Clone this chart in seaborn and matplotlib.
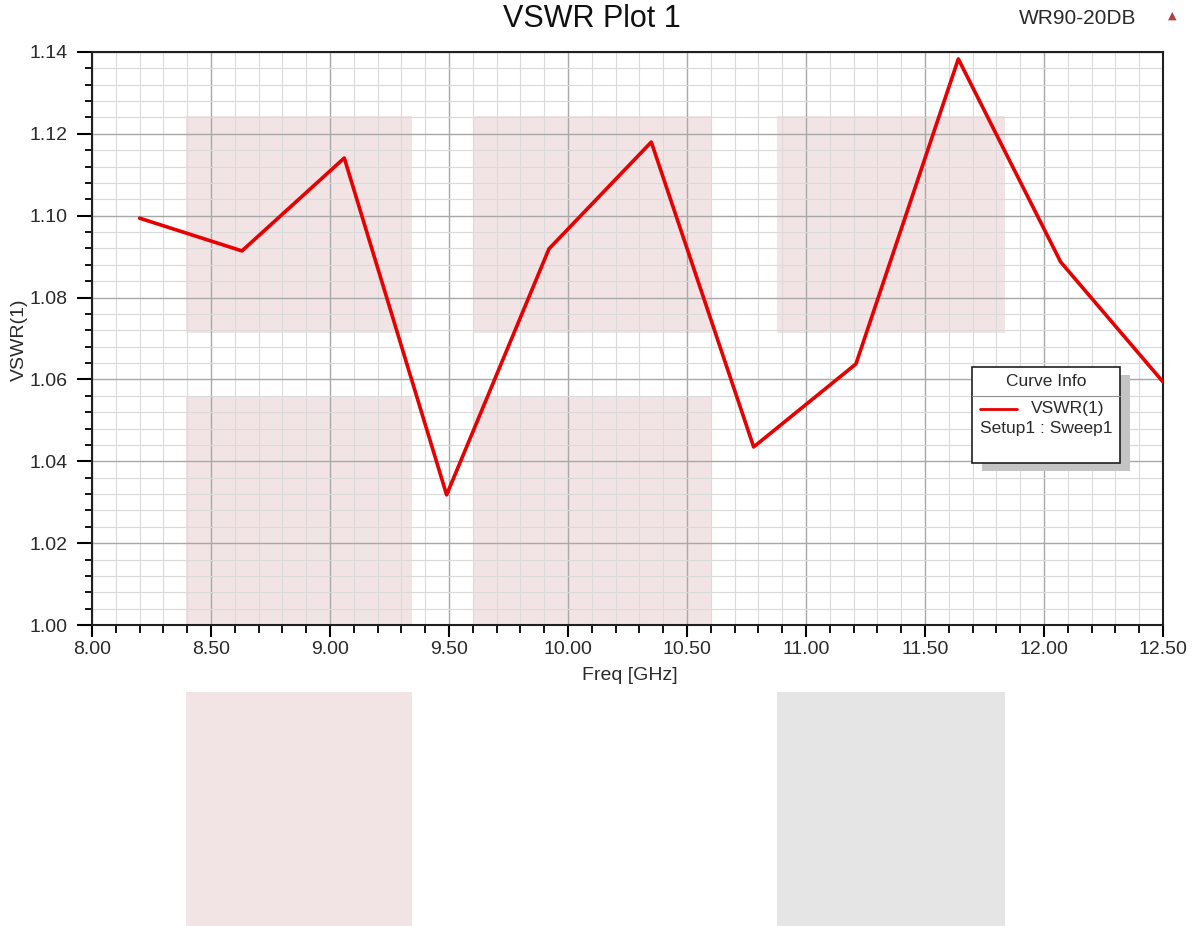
import matplotlib
matplotlib.use('Agg')
import matplotlib.pyplot as plt
from matplotlib.patches import Rectangle
from matplotlib.lines import Line2D
from matplotlib.ticker import MultipleLocator, FormatStrFormatter
import seaborn as sns
import pandas as pd

# data
freq_ghz = [8.20, 8.63, 9.06, 9.49, 9.92, 10.35, 10.78, 11.21, 11.64, 12.07, 12.50]
vswr = [1.0994, 1.0914, 1.1141, 1.0318, 1.0919, 1.1180, 1.0435, 1.0638, 1.1383, 1.0887, 1.0594]

df = pd.DataFrame({'Freq': freq_ghz, 'VSWR': vswr})

sns.set_style('white')
plt.rcParams['font.family'] = ['Liberation Sans', 'DejaVu Sans']

W, H = 1195, 926
fig = plt.figure(figsize=(W / 100, H / 100), dpi=100)

def fx(px):
    return px / W

def fy(py):
    return 1 - py / H

ax = fig.add_axes([fx(92), fy(625), fx(1163) - fx(92), fy(52) - fy(625)])

# shaded overlay blocks behind the grid
pink = '#f2e4e4'
for x0, x1, y0, y1 in [(8.395, 9.345, 1.0713, 1.1244), (9.605, 10.605, 1.0713, 1.1244),
                       (10.878, 11.836, 1.0713, 1.1244), (8.395, 9.345, 1.0, 1.0559),
                       (9.605, 10.605, 1.0, 1.0559)]:
    ax.add_patch(Rectangle((x0, y0), x1 - x0, y1 - y0, color=pink, lw=0, zorder=0.2))

# blocks under the plot
fig.patches.append(Rectangle((fx(186), fy(926)), fx(412) - fx(186), fy(692) - fy(926),
                             transform=fig.transFigure, color=pink, lw=0))
fig.patches.append(Rectangle((fx(777), fy(926)), fx(1005) - fx(777), fy(692) - fy(926),
                             transform=fig.transFigure, color='#e5e5e5', lw=0))

sns.lineplot(data=df, x='Freq', y='VSWR', color='#e80000', linewidth=2.6, ax=ax, zorder=3)

ax.set_xlim(8.0, 12.5)
ax.set_ylim(1.0, 1.14)
ax.xaxis.set_major_locator(MultipleLocator(0.5))
ax.xaxis.set_minor_locator(MultipleLocator(0.1))
ax.yaxis.set_major_locator(MultipleLocator(0.02))
ax.yaxis.set_minor_locator(MultipleLocator(0.004))
ax.xaxis.set_major_formatter(FormatStrFormatter('%.2f'))
ax.yaxis.set_major_formatter(FormatStrFormatter('%.2f'))

ax.set_axisbelow(True)
ax.grid(which='major', color='#a8a8a8', linewidth=1.0)
ax.grid(which='minor', color='#dadada', linewidth=0.8)

ax.tick_params(axis='x', which='major', direction='out', length=8.6, width=1.5, color='black',
               labelsize=14, labelcolor='#2a2a2a', pad=3)
ax.tick_params(axis='x', which='minor', direction='out', length=5.8, width=1.3, color='black')
ax.tick_params(axis='y', which='major', direction='out', length=10.8, width=1.5, color='black',
               labelsize=14, labelcolor='#2a2a2a', pad=7)
ax.tick_params(axis='y', which='minor', direction='out', length=5, width=1.3, color='black')
ax.tick_params(which='both', bottom=True, left=True)
for s in ax.spines.values():
    s.set_color('#202020')
    s.set_linewidth(1.5)

ax.set_xlabel('Freq [GHz]', fontsize=14, color='#2a2a2a')
ax.set_ylabel('VSWR(1)', fontsize=14, color='#2a2a2a')
ax.xaxis.set_label_coords(0.502, -(667 - 625) / 573, transform=ax.transAxes)
ax.yaxis.set_label_coords(-(92 - 28) / 1071, 0.497, transform=ax.transAxes)

fig.text(fx(592), fy(19), 'VSWR Plot 1', ha='center', va='center', fontsize=22, color='#111111')
fig.text(fx(1078), fy(19), 'WR90-20DB', ha='center', va='center', fontsize=15, color='#2a2a2a')
fig.text(fx(1172), fy(16), '\u25b2', ha='center', va='center', fontsize=8, color='#b04040',
         family=['DejaVu Sans'])

# "Curve Info" box with drop shadow
fig.patches.append(Rectangle((fx(982), fy(471)), fx(1130) - fx(982), fy(375) - fy(471),
                             transform=fig.transFigure, color='#c4c4c4', lw=0, zorder=5))
fig.patches.append(Rectangle((fx(972), fy(463)), fx(1120) - fx(972), fy(367) - fy(463),
                             transform=fig.transFigure, facecolor='white', edgecolor='#202020',
                             lw=1.2, zorder=6))
fig.lines.append(Line2D([fx(972), fx(1120)], [fy(396), fy(396)], transform=fig.transFigure,
                        color='#909090', lw=0.8, zorder=7))
line_color = ax.get_lines()[0].get_color()
fig.lines.append(Line2D([fx(980), fx(1017)], [fy(409), fy(409)], transform=fig.transFigure,
                        color=line_color, lw=2.0, zorder=7))
fig.text(fx(1046), fy(381), 'Curve Info', ha='center', va='center', fontsize=12.5,
         color='#2a2a2a', zorder=8)
fig.text(fx(1068), fy(409), 'VSWR(1)', ha='center', va='center', fontsize=12.5,
         color='#2a2a2a', zorder=8)
fig.text(fx(1046), fy(428), 'Setup1 : Sweep1', ha='center', va='center', fontsize=12.5,
         color='#2a2a2a', zorder=8)

fig.savefig('out.png', dpi=100)
